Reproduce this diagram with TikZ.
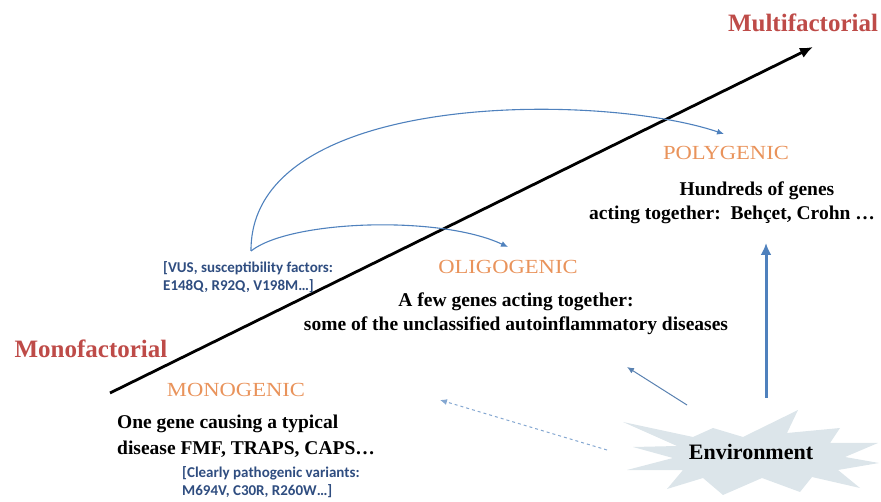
\documentclass[tikz,border=0pt]{standalone}
\usepackage{fontspec}
\usepackage{graphicx}
\setmainfont{Liberation Serif}
\newfontfamily\brfont{Carlito}
\usetikzlibrary{arrows.meta}
\definecolor{facred}{HTML}{BE4B48}
\definecolor{headorange}{HTML}{E9935B}
\definecolor{arrblue}{HTML}{4F81BD}
\definecolor{brblue}{HTML}{2F4D80}
\definecolor{starfill}{HTML}{DCE5EA}
\begin{document}
\begin{tikzpicture}[x=1pt,y=-1pt,
  factor/.style={inner sep=0pt, text=facred, font=\fontsize{25}{30}\selectfont\bfseries},
  heading/.style={inner sep=0pt, text=headorange, font=\fontsize{20}{24}\selectfont},
  bodytext/.style={inner sep=0pt, font=\fontsize{19.5}{24}\selectfont\bfseries},
  brtext/.style={inner sep=0pt, text=brblue, align=left, font=\brfont\fontsize{15}{17.5}\selectfont\bfseries},
  curvearrow/.style={draw=arrblue, line width=1.1pt, -{Latex[length=7pt,width=6pt]}},
]
\useasboundingbox (0,0) rectangle (881,502);

% axis
\coordinate (axisstart) at (110,393);
\coordinate (axisend) at (813,47);
\draw[line width=2.8pt, -{Latex[length=13pt,width=11pt]}] (axisstart) -- (axisend);

% factor labels
\node[factor] (multi) at (803,23) {Multifactorial};
\node[factor] (monofac) at (91,349) {Monofactorial};

% headings
\node[heading] (monohead) at (236,390) {\scalebox{1.13}[1]{MONOGENIC}};
\node[heading] (oligohead) at (508,267) {\scalebox{1.13}[1]{OLIGOGENIC}};
\node[heading] (polyhead) at (726,153) {\scalebox{1.13}[1]{POLYGENIC}};

% body texts
\node[bodytext, align=left, anchor=west, font=\fontsize{19.5}{26}\selectfont\bfseries] (monotext) at (117,436)
  {One gene causing a typical\\disease FMF, TRAPS, CAPS…};
\node[bodytext, align=center] (oligotext) at (516,314)
  {A few genes acting together:\\some of the unclassified autoinflammatory diseases};
\node[bodytext, align=center] (polytext) at (732,203)
  {\hspace*{50pt}Hundreds of genes\\acting together:~~Behçet, Crohn …};

% bracket notes
\node[brtext, anchor=west] (vusbr) at (163,277)
  {[VUS, susceptibility factors:\\E148Q, R92Q, V198M…]};
\node[brtext, anchor=west] (monobr) at (182,482)
  {[Clearly pathogenic variants:\\M694V, C30R, R260W…]};

% environment star
\fill[starfill] (623,422) -- (693,437) -- (713,428) -- (743,437) -- (798,410) -- (787,433)
  -- (840,428) -- (830,443) -- (878,443) -- (845,457) -- (879,463) -- (838,470)
  -- (860,488) -- (812,477) -- (800,492) -- (762,478) -- (723,495) -- (703,478)
  -- (667,489) -- (683,470) -- (627,470) -- (673,458) -- (633,447) -- (677,446) -- cycle;
\node[inner sep=0pt, font=\fontsize{22}{26}\selectfont\bfseries] (env) at (751,452) {Environment};

% curved arrows from the susceptibility note
\coordinate (src) at (251,251);
\coordinate (oligotip) at (508,247);
\coordinate (polytip) at (724,134);
\draw[curvearrow] (src) .. controls (290,220) and (440,215) .. (oligotip);
\draw[curvearrow] (src) .. controls (250,90) and (600,92) .. (polytip);

% environment arrows
\coordinate (envtop) at (766,398);
\coordinate (polybottom) at (766,243);
\draw[arrblue, line width=3pt, -{Latex[length=12pt,width=11pt]}] (envtop) -- (polybottom);
\coordinate (envnw) at (687,405);
\coordinate (oligobottom) at (627,367);
\draw[arrblue!80!gray, line width=1pt, -{Latex[length=7pt,width=6pt]}] (envnw) -- (oligobottom);
\coordinate (envw) at (607,450);
\coordinate (monoright) at (440,400);
\draw[arrblue!70!white, line width=1pt, dash pattern=on 3pt off 3pt, -{Latex[length=7pt,width=6pt]}] (envw) -- (monoright);
\end{tikzpicture}
\end{document}
